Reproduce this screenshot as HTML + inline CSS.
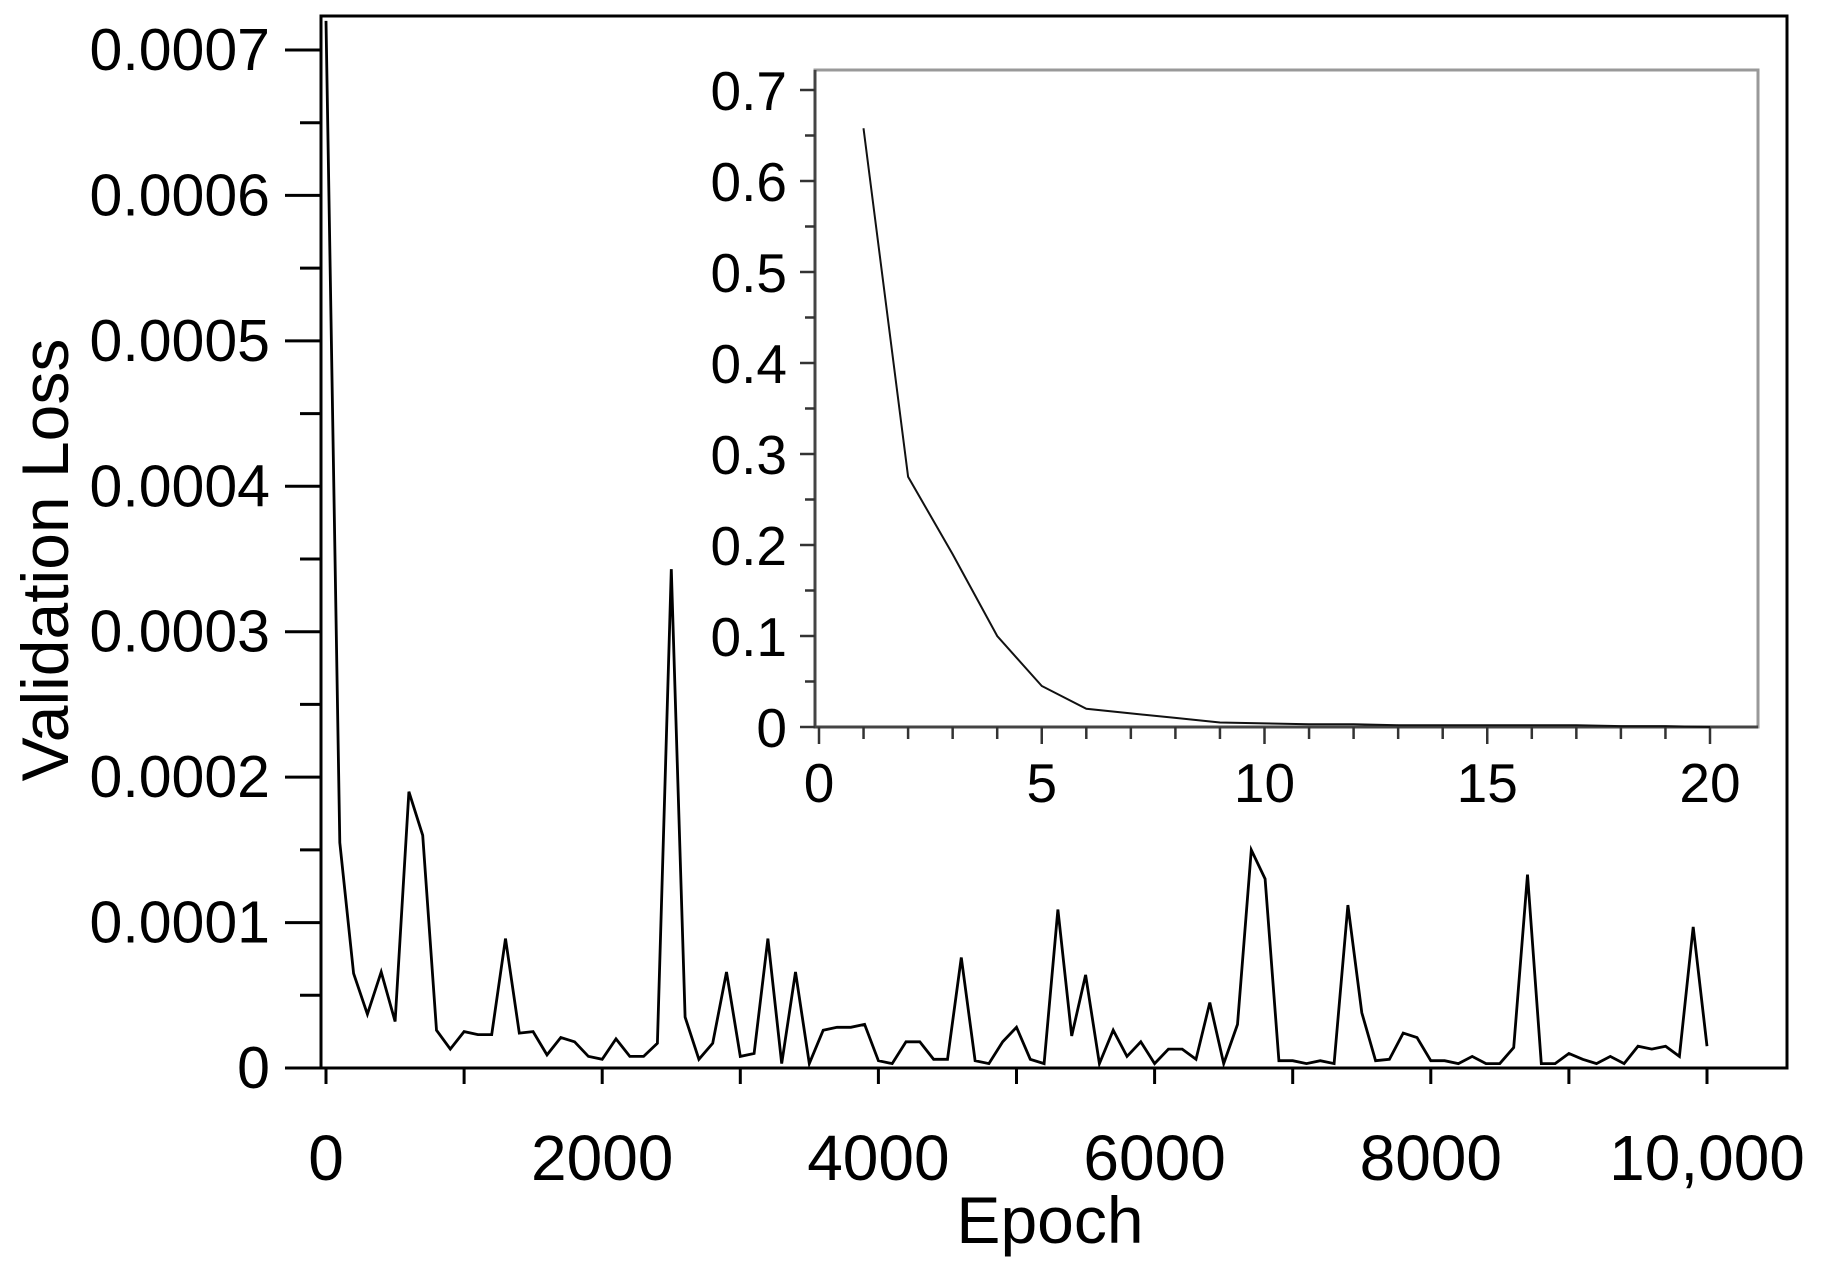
<!DOCTYPE html>
<html><head><meta charset="utf-8"><style>
html,body{margin:0;padding:0;background:#fff}
svg{display:block;font-family:"Liberation Sans",Arial,sans-serif}
</style></head><body>
<svg id="chart" width="1822" height="1266" viewBox="0 0 1822 1266">
<g id="main"></g>
<g id="inset"></g>
</svg>
<script>
const mainEpochs = Array.from({length:101},(_,i)=>i*100);
const mainLoss = [72,15.5,6.5,3.7,6.6,3.2,19,16,2.6,1.3,2.5,2.3,2.3,8.9,2.4,2.5,0.9,2.1,1.8,0.8,0.6,2.0,0.8,0.8,1.7,34.3,3.5,0.6,1.7,6.6,0.8,1.0,8.9,0.3,6.6,0.3,2.6,2.8,2.8,3.0,0.5,0.3,1.8,1.8,0.6,0.6,7.6,0.5,0.3,1.8,2.8,0.6,0.3,10.9,2.2,6.4,0.3,2.6,0.8,1.8,0.3,1.3,1.3,0.6,4.5,0.3,3.0,15.0,13.0,0.5,0.5,0.3,0.5,0.3,11.2,3.8,0.5,0.6,2.4,2.1,0.5,0.5,0.3,0.8,0.3,0.3,1.4,13.3,0.3,0.3,1.0,0.6,0.3,0.8,0.3,1.5,1.3,1.5,0.8,9.7,1.5];
const mainYTicks = [0,0.0001,0.0002,0.0003,0.0004,0.0005,0.0006,0.0007];
const mainYLabels = ["0","0.0001","0.0002","0.0003","0.0004","0.0005","0.0006","0.0007"];
const mainXTicks = [0,2000,4000,6000,8000,10000];
const mainXLabels = ["0","2000","4000","6000","8000","10,000"];
const insetEpochs = [1,2,3,4,5,6,7,8,9,10,11,12,13,14,15,16,17,18,19,20];
const insetLoss = [0.658,0.275,0.19,0.10,0.045,0.02,0.015,0.01,0.005,0.004,0.003,0.003,0.002,0.002,0.002,0.002,0.002,0.001,0.001,0.0];
const insetYTicks = [0,0.1,0.2,0.3,0.4,0.5,0.6,0.7];
const insetYLabels = ["0","0.1","0.2","0.3","0.4","0.5","0.6","0.7"];
const insetXTicks = [0,5,10,15,20];
const insetXLabels = ["0","5","10","15","20"];

const NS="http://www.w3.org/2000/svg";
function mk(parent,tag,attrs,text){const e=document.createElementNS(NS,tag);for(const k in attrs)e.setAttribute(k,attrs[k]);if(text!==undefined)e.textContent=text;parent.appendChild(e);return e;}

const mx=v=>326+(v/10000)*(1707-326);
const my=v=>1068-(v/0.0007)*(1068-50);
const main=document.getElementById('main');
let e;
e=mk(main,'path',{d:'M321 16 L1787 16 L1787 1068 L321 1068 Z',fill:'none',stroke:'#000','stroke-width':3});

for(let i=0;i<=14;i++){const v=i*0.00005;const y=my(v);const major=i%2===0;
 e=mk(main,'line',{x1:major?285:300,x2:321,y1:y,y2:y,stroke:'#000','stroke-width':3});
 }
mainYTicks.forEach((v,i)=>{e=mk(main,'text',{x:270,y:my(v)+20,'text-anchor':'end','font-size':59},mainYLabels[i]);
 });
for(let i=0;i<=10;i++){const x=mx(i*1000);
 e=mk(main,'line',{x1:x,x2:x,y1:1068,y2:1084,stroke:'#000','stroke-width':3});
 }
mainXTicks.forEach((v,i)=>{e=mk(main,'text',{x:mx(v),y:1180,'text-anchor':'middle','font-size':64},mainXLabels[i]);
 });
e=mk(main,'text',{x:1050,y:1243,'text-anchor':'middle','font-size':66},'Epoch');

e=mk(main,'text',{x:0,y:0,'text-anchor':'middle','font-size':66,transform:'translate(68,560) rotate(-90)'},'Validation Loss');

const pts=mainEpochs.map((t,i)=>mx(t).toFixed(1)+','+Math.max(16,my(mainLoss[i]*1e-5)).toFixed(1)).join(' ');
e=mk(main,'polyline',{points:pts,fill:'none',stroke:'#000','stroke-width':2.8,'stroke-linejoin':'miter'});


const ix=v=>819+(v/20)*(1710-819);
const iy=v=>727-(v/0.7)*(727-90);
const inset=document.getElementById('inset');
e=mk(inset,'rect',{x:815,y:70,width:943,height:657,fill:'#fff',stroke:'#999','stroke-width':3});

e=mk(inset,'path',{d:'M815 70 L815 727 L1758 727',fill:'none',stroke:'#444','stroke-width':3});

for(let i=0;i<=14;i++){const y=iy(i*0.05);const major=i%2===0;
 e=mk(inset,'line',{x1:major?800:805,x2:815,y1:y,y2:y,stroke:'#333','stroke-width':2.5});
 }
insetYTicks.forEach((v,i)=>{e=mk(inset,'text',{x:787,y:iy(v)+20,'text-anchor':'end','font-size':55},insetYLabels[i]);
 });
for(let i=0;i<=20;i++){const x=ix(i);const major=i%5===0;
 e=mk(inset,'line',{x1:x,x2:x,y1:727,y2:major?744:739,stroke:'#333','stroke-width':2.5});
 }
insetXTicks.forEach((v,i)=>{e=mk(inset,'text',{x:ix(v),y:802,'text-anchor':'middle','font-size':55},insetXLabels[i]);
 });
const ipts=insetEpochs.map((t,i)=>ix(t).toFixed(1)+','+iy(insetLoss[i]).toFixed(1)).join(' ');
e=mk(inset,'polyline',{points:ipts,fill:'none',stroke:'#111','stroke-width':2});

</script>
</body></html>
